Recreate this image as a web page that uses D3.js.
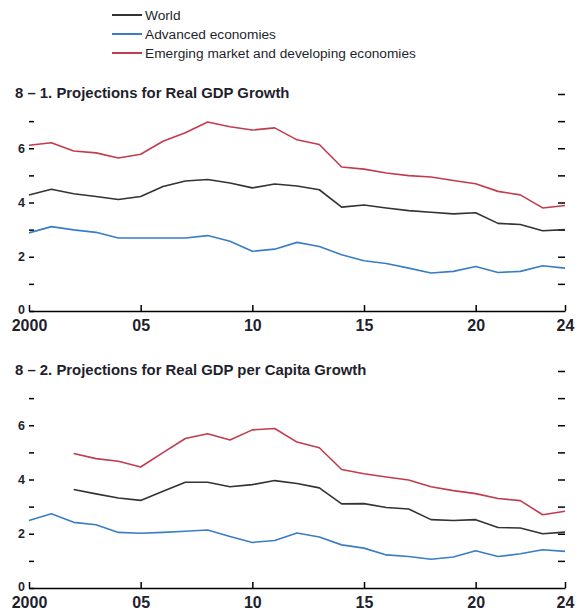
<!DOCTYPE html>
<html>
<head>
<meta charset="utf-8">
<script src="https://cdn.jsdelivr.net/npm/d3@7"></script>
<style>
  body { margin: 0; background: #fff; }
  svg { display: block; font-family: "Liberation Sans", Arial, sans-serif; }
  .axis text { fill: #1f1f2e; font-weight: bold; }
</style>
</head>
<body>
<div id="chart"></div>
<script>
// Data (percent)
const years = d3.range(2000, 2025);
const seriesNames = ["World", "Advanced economies", "Emerging market and developing economies"];
const seriesColors = ["#333333", "#3a7dc6", "#c23b4e"];

// Panel 1: real GDP growth
const gdpWorld = [4.28, 4.49, 4.32, 4.22, 4.11, 4.22, 4.59, 4.79, 4.85, 4.72, 4.54, 4.68, 4.61,
  4.47, 3.83, 3.91, 3.80, 3.70, 3.64, 3.58, 3.62, 3.23, 3.19, 2.96, 3.00];
const gdpAdvanced = [2.88, 3.11, 2.99, 2.90, 2.69, 2.69, 2.69, 2.69, 2.78, 2.57, 2.20, 2.28, 2.53,
  2.38, 2.07, 1.85, 1.75, 1.58, 1.40, 1.46, 1.64, 1.42, 1.46, 1.67, 1.58];
const gdpEmerging = [6.11, 6.20, 5.90, 5.83, 5.64, 5.78, 6.26, 6.57, 6.97, 6.79, 6.67, 6.75, 6.31,
  6.14, 5.31, 5.23, 5.09, 4.99, 4.94, 4.81, 4.69, 4.41, 4.28, 3.80, 3.89];

// Panel 2: real GDP per capita growth (world and emerging start in 2002)
const pcWorld = [null, null, 3.63, 3.47, 3.32, 3.23, 3.57, 3.90, 3.90, 3.73, 3.81, 3.96, 3.85,
  3.69, 3.10, 3.11, 2.97, 2.91, 2.52, 2.49, 2.52, 2.23, 2.21, 2.00, 2.06];
const pcAdvanced = [2.49, 2.74, 2.42, 2.33, 2.05, 2.02, 2.05, 2.09, 2.14, 1.90, 1.68, 1.75, 2.03,
  1.88, 1.59, 1.47, 1.22, 1.16, 1.06, 1.14, 1.37, 1.16, 1.26, 1.41, 1.35];
const pcEmerging = [null, null, 4.96, 4.77, 4.67, 4.46, 4.99, 5.51, 5.69, 5.46, 5.83, 5.88, 5.38,
  5.17, 4.37, 4.21, 4.09, 3.98, 3.73, 3.59, 3.48, 3.30, 3.22, 2.70, 2.83];

const xTickValues = [2000, 2005, 2010, 2015, 2020, 2024];
const xTickLabels = ["2000", "05", "10", "15", "20", "24"];
const yLabelled = [0, 2, 4, 6];
const panelTitles = [
  "8 \u2013 1. Projections for Real GDP Growth",
  "8 \u2013 2. Projections for Real GDP per Capita Growth"
];

const W = 587, H = 614;
const svg = d3.select("#chart").append("svg")
  .attr("width", W)
  .attr("height", H);

// Legend
const legend = svg.append("g").attr("transform", "translate(112,15)");
seriesNames.forEach((name, i) => {
  const g = legend.append("g").attr("transform", `translate(0,${i * 19})`);
  g.append("line")
    .attr("x1", 0).attr("x2", 30)
    .attr("stroke", seriesColors[i])
    .attr("stroke-width", 2);
  g.append("text")
    .attr("x", 33)
    .attr("dy", "0.35em")
    .style("font-size", "13.7px")
    .attr("fill", "#1f1f2e")
    .text(name);
});

const x = d3.scaleLinear().domain([2000, 2024]).range([29, 565]);

function drawPanel(top, bottom, title, data) {
  const y = d3.scaleLinear().domain([0, 8]).range([bottom, top]);

  // Title
  svg.append("text")
    .attr("x", 15)
    .attr("y", top + 4)
    .style("font-size", "14.9px")
    .style("font-weight", "bold")
    .attr("fill", "#1f1f2e")
    .text(title);

  // Left ticks (inward), labels on even values
  svg.append("g")
    .attr("class", "axis")
    .attr("transform", `translate(${x.range()[0]},0)`)
    .call(d3.axisLeft(y)
      .tickValues(d3.range(0, 8))
      .tickSizeInner(-5)
      .tickSizeOuter(0)
      .tickPadding(4)
      .tickFormat(d => yLabelled.includes(d) ? d : ""))
    .call(g => g.select(".domain").remove())
    .call(g => g.selectAll("text").style("font-size", "12.5px"))
    // nudge the zero label up so it clears the year labels
    .call(g => g.selectAll("text").filter(d => d === 0).attr("y", -1.5))
    .call(g => g.selectAll("line").attr("stroke-width", 1.5));

  // Right ticks (inward), no labels
  svg.append("g")
    .attr("class", "axis")
    .attr("transform", `translate(${x.range()[1]},0)`)
    .call(d3.axisRight(y)
      .tickValues(d3.range(1, 9))
      .tickSizeInner(-7)
      .tickSizeOuter(0)
      .tickFormat(""))
    .call(g => g.select(".domain").remove())
    .call(g => g.selectAll("line").attr("stroke-width", 1.5));

  // X axis
  svg.append("g")
    .attr("class", "axis")
    .attr("transform", `translate(0,${bottom})`)
    .call(d3.axisBottom(x)
      .tickValues(xTickValues)
      .tickSizeInner(-6)
      .tickSizeOuter(0)
      .tickPadding(8.5)
      .tickFormat((d, i) => xTickLabels[i]))
    .call(g => g.select(".domain").attr("stroke-width", 1.5))
    .call(g => g.selectAll("line").attr("stroke-width", 1.5))
    .call(g => g.selectAll("text").style("font-size", "16px"));

  // Lines
  const line = d3.line()
    .defined(d => d[1] != null)
    .x(d => x(d[0]))
    .y(d => y(d[1]));

  data.forEach((vals, i) => {
    svg.append("path")
      .datum(years.map((yr, j) => [yr, vals[j]]))
      .attr("fill", "none")
      .attr("stroke", seriesColors[i])
      .attr("stroke-width", 1.6)
      .attr("stroke-linejoin", "round")
      .attr("d", line);
  });
}

drawPanel(94, 311, panelTitles[0], [gdpWorld, gdpAdvanced, gdpEmerging]);
drawPanel(371, 588, panelTitles[1], [pcWorld, pcAdvanced, pcEmerging]);
</script>
</body>
</html>
